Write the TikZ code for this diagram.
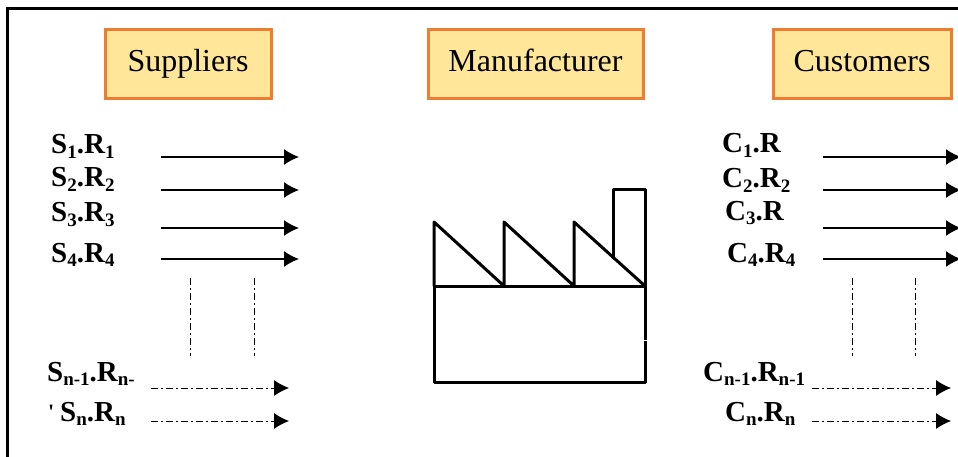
\documentclass[tikz,border=0pt]{standalone}
\usepackage{fontspec}
\setmainfont{Liberation Serif}
\newfontfamily\plainserif{Liberation Serif}
\usetikzlibrary{arrows.meta}
\definecolor{boxfill}{HTML}{FFE699}
\definecolor{boxline}{HTML}{ED7D31}
\newcommand{\lsub}[1]{\raisebox{-0.14em}{\fontsize{19}{19}\selectfont\bfseries #1}}
\tikzset{
  x=1pt,y=-1pt,
  titlebox/.style={draw=boxline,fill=boxfill,line width=3pt,minimum height=69pt,inner sep=0pt,text height=21pt,text depth=7pt,font=\fontsize{32}{32}\selectfont},
  lab/.style={anchor=base west,inner sep=0pt,font=\fontsize{29}{29}\selectfont\bfseries},
  flow/.style={line width=1.5pt,-{Latex[length=15pt,width=16pt,sharp]}},
  dflow/.style={line width=.9pt,dash pattern=on 7pt off 3pt on 2pt off 3pt,-{Latex[length=15pt,width=16pt,sharp]}},
  guide/.style={line width=.9pt,dash pattern=on 7pt off 3pt on 2pt off 3pt},
  wall/.style={line width=3pt,line cap=round,line join=round},
}
\begin{document}
\begin{tikzpicture}
\useasboundingbox (0,0) rectangle (958,457);
\draw[line width=3pt] (7,470) -- (7,9) -- (970,9);
\node[titlebox,minimum width=166pt] (sup) at (188,64.5) {Suppliers};
\node[titlebox,minimum width=215pt] (man) at (535.5,64.5) {Manufacturer};
\node[titlebox,minimum width=178pt] (cus) at (862,64.5) {Customers};
% supplier labels
\node[lab] (s1) at (51,154) {S\lsub{1}.R\lsub{1}};
\node[lab] (s2) at (51,187) {S\lsub{2}.R\lsub{2}};
\node[lab] (s3) at (51,222) {S\lsub{3}.R\lsub{3}};
\node[lab] (s4) at (51,262) {S\lsub{4}.R\lsub{4}};
\node[lab] (sm) at (47,381) {S\lsub{n-1}.R\lsub{n-}};
\node[lab] (tick) at (48,419) {\plainserif\fontsize{22}{22}\selectfont\char"0027};
\node[lab] (sn) at (60,421) {S\lsub{n}.R\lsub{n}};
% customer labels
\node[lab] (c1) at (722,153) {C\lsub{1}.R};
\node[lab] (c2) at (722,188) {C\lsub{2}.R\lsub{2}};
\node[lab] (c3) at (725,220) {C\lsub{3}.R};
\node[lab] (c4) at (727,262) {C\lsub{4}.R\lsub{4}};
\node[lab] (cm) at (703,381) {C\lsub{n-1}.R\lsub{n-1}};
\node[lab] (cn) at (725,421) {C\lsub{n}.R\lsub{n}};
% arrow ends
\foreach \n/\y in {1/157,2/190,3/228,4/259}{
  \coordinate (sa\n) at (161,\y); \coordinate (sb\n) at (299,\y);
  \coordinate (ca\n) at (823,\y); \coordinate (cb\n) at (961,\y);
  \draw[flow] (sa\n) -- (sb\n);
  \draw[flow] (ca\n) -- (cb\n);
}
\foreach \n/\y in {m/388,n/421}{
  \coordinate (sa\n) at (151,\y); \coordinate (sb\n) at (289,\y);
  \coordinate (ca\n) at (812,\y); \coordinate (cb\n) at (951,\y);
  \draw[dflow] (sa\n) -- (sb\n);
  \draw[dflow] (ca\n) -- (cb\n);
}
\foreach \n/\x in {a/190.5,b/254.5,c/852.5,d/915.5}{
  \coordinate (gt\n) at (\x,278); \coordinate (gb\n) at (\x,356);
  \draw[guide] (gt\n) -- (gb\n);
}
% factory
\draw[wall] (434,286) rectangle (645,382);
\draw[wall] (434,286) -- (434,222) -- (504,286) -- (504,222) -- (574,286) -- (574,222) -- (645,286);
\draw[wall] (613,258) -- (613,190) -- (645,190) -- (645,286);
\draw[white,line width=1pt] (643,340) -- (647,340);
\end{tikzpicture}
\end{document}
